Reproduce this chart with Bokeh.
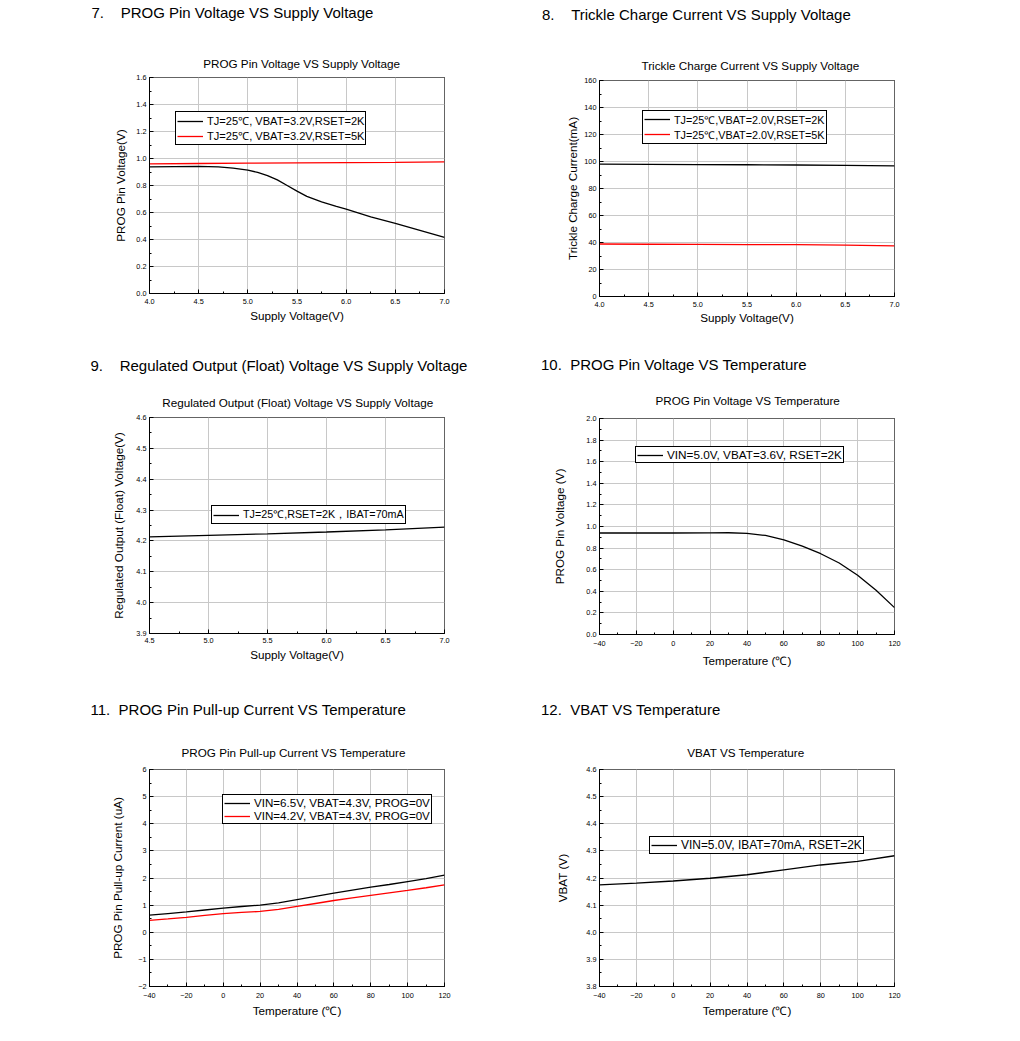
from bokeh.plotting import figure
from bokeh.layouts import column, row
from bokeh.models import Range1d, SingleIntervalTicker, PrintfTickFormatter, Title
from bokeh.embed import file_html
from bokeh.resources import INLINE

FONT = "Liberation Sans"
NB = "\u00a0"
EPS = 1e-9

# ---------------- data ----------------
# 7. PROG Pin Voltage vs Supply Voltage
p7_x_2k = [4.0, 4.25, 4.5, 4.7, 4.85, 5.0, 5.1, 5.2, 5.3, 5.4, 5.5, 5.6, 5.75, 5.9, 6.0, 6.25, 6.5, 6.75, 7.0]
p7_y_2k = [0.938, 0.940, 0.941, 0.938, 0.928, 0.914, 0.897, 0.873, 0.842, 0.800, 0.758, 0.720, 0.679, 0.645, 0.625, 0.568, 0.519, 0.467, 0.415]
p7_x_5k = [4.0, 4.5, 5.0, 5.5, 6.0, 6.5, 7.0]
p7_y_5k = [0.960, 0.963, 0.966, 0.968, 0.970, 0.972, 0.975]

# 8. Trickle Charge Current vs Supply Voltage
p8_x = [4.0, 4.5, 5.0, 5.5, 6.0, 6.5, 7.0]
p8_y_2k = [98.1, 97.9, 97.7, 97.6, 97.4, 97.1, 96.8]
p8_y_5k = [38.9, 38.7, 38.6, 38.5, 38.4, 38.0, 37.5]

# 9. Regulated Output (Float) Voltage vs Supply Voltage
p9_x = [4.5, 5.0, 5.5, 6.0, 6.5, 7.0]
p9_y = [4.213, 4.218, 4.223, 4.229, 4.236, 4.245]

# 10. PROG Pin Voltage vs Temperature
p10_x = [-40, -20, 0, 20, 30, 40, 50, 60, 70, 80, 90, 100, 110, 120]
p10_y = [0.940, 0.940, 0.940, 0.941, 0.942, 0.937, 0.917, 0.877, 0.818, 0.748, 0.662, 0.548, 0.409, 0.249]

# 11. PROG Pin Pull-up Current vs Temperature
p11_x = [-40, -30, -20, -10, 0, 10, 20, 30, 40, 50, 60, 70, 80, 90, 100, 110, 120]
p11_y_65 = [0.63, 0.69, 0.75, 0.82, 0.89, 0.95, 1.00, 1.08, 1.20, 1.32, 1.44, 1.55, 1.66, 1.76, 1.87, 1.98, 2.11]
p11_y_42 = [0.44, 0.49, 0.55, 0.62, 0.69, 0.73, 0.77, 0.84, 0.95, 1.06, 1.17, 1.27, 1.36, 1.45, 1.54, 1.64, 1.745]

# 12. VBAT vs Temperature
p12_x = [-40, -20, 0, 20, 40, 60, 80, 100, 120]
p12_y = [4.175, 4.181, 4.189, 4.199, 4.212, 4.230, 4.248, 4.261, 4.282]

GRID = "#c8c8c8"


def make_panel(cfg):
    bl, br = cfg["bl"], cfg["br"]
    xr, yr = cfg["xr"], cfg["yr"]
    p = figure(frame_width=295, frame_height=cfg["fh"],
               min_border_left=bl, min_border_right=br,
               min_border_top=cfg["bt"], min_border_bottom=cfg["bb"],
               x_range=Range1d(xr[0] - EPS, xr[1] + EPS),
               y_range=Range1d(yr[0] - EPS, yr[1] + EPS),
               output_backend="svg", toolbar_location=None)
    p.background_fill_color = "white"
    p.border_fill_color = "white"
    p.outline_line_color = "black"
    p.outline_line_alpha = 1
    p.outline_line_width = 1

    p.xaxis.ticker = SingleIntervalTicker(interval=cfg["xi"], num_minor_ticks=2)
    p.yaxis.ticker = SingleIntervalTicker(interval=cfg["yi"], num_minor_ticks=2)
    if cfg.get("xf"):
        p.xaxis.formatter = PrintfTickFormatter(format=cfg["xf"])
    if cfg.get("yf"):
        p.yaxis.formatter = PrintfTickFormatter(format=cfg["yf"])

    for ax in (p.xaxis[0], p.yaxis[0]):
        ax.major_tick_in = 4
        ax.major_tick_out = 0
        ax.minor_tick_in = 2
        ax.minor_tick_out = 0
        ax.axis_line_color = "black"
        ax.major_tick_line_color = "black"
        ax.minor_tick_line_color = "black"
        ax.major_label_text_font = FONT
        ax.major_label_text_font_size = "7.3px"
        ax.major_label_text_color = "black"
        ax.axis_label_text_font = FONT
        ax.axis_label_text_font_size = "11.7px"
        ax.axis_label_text_font_style = "normal"
        ax.axis_label_text_color = "black"
    p.xaxis.axis_label = cfg["xl"]
    p.yaxis.axis_label = cfg["yl"]
    p.xaxis.major_label_standoff = cfg["xls"]
    p.xaxis.axis_label_standoff = cfg["xas"]
    p.yaxis.major_label_standoff = 3
    p.yaxis.axis_label_standoff = cfg["yas"]

    p.xgrid.grid_line_color = GRID
    p.ygrid.grid_line_color = GRID
    p.xgrid.grid_line_width = 1
    p.ygrid.grid_line_width = 1

    for (xs, ys, color, lab) in cfg["series"]:
        p.line(xs, ys, line_color=color, line_width=1.3, legend_label=lab)

    lg = p.legend[0]
    lg.location = cfg["lgpos"]
    lg.margin = 0
    lg.padding = 1
    lg.spacing = 0
    lg.glyph_width = 26
    lg.glyph_height = 12
    lg.label_height = 12
    lg.label_standoff = 4
    lg.label_text_font = FONT
    lg.label_text_font_size = cfg["lgfs"]
    lg.label_text_color = "black"
    lg.border_line_color = "black"
    lg.border_line_width = 1
    lg.border_line_alpha = 1
    lg.background_fill_alpha = 1

    t_off, s_c, spacer, h_off = cfg["titles"]
    p.title.text = ""
    # chart title, nearest to the frame
    p.add_layout(Title(text=cfg["title"], align="left", offset=t_off, standoff=s_c,
                       text_font=FONT, text_font_size="11.7px", text_font_style="normal",
                       text_color="black"), "above")
    # spacer
    p.add_layout(Title(text=" ", text_font_size="1px", standoff=spacer), "above")
    # section heading, outermost
    p.add_layout(Title(text=cfg["heading"], align="left", offset=h_off, standoff=0,
                       text_font=FONT, text_font_size="15px", text_font_style="normal",
                       text_color="black"), "above")
    return p


cfgs = [
    dict(bl=148, br=27, fh=216, bt=77, bb=55, xr=(4.0, 7.0), yr=(0.0, 1.6), xi=0.5, yi=0.2, xf="%.1f", yf="%.1f",
         xl="Supply Voltage(V)", yl="PROG Pin Voltage(V)", xls=5, xas=2, yas=6,
         series=[(p7_x_2k, p7_y_2k, "black", "TJ=25℃, VBAT=3.2V,RSET=2K"),
                 (p7_x_5k, p7_y_5k, "red", "TJ=25℃, VBAT=3.2V,RSET=5K")],
         lgpos=(26, 148), lgfs="11.1px",
         heading="7." + NB * 4 + "PROG Pin Voltage VS Supply Voltage",
         title="PROG Pin Voltage VS Supply Voltage", titles=(53.7, 16.0, 22.4, -58)),
    dict(bl=128, br=15, fh=216, bt=80, bb=52, xr=(4.0, 7.0), yr=(0, 160), xi=0.5, yi=20, xf="%.1f", yf=None,
         xl="Supply Voltage(V)", yl="Trickle Charge Current(mA)", xls=5, xas=1, yas=2,
         series=[(p8_x, p8_y_2k, "black", "TJ=25℃,VBAT=2.0V,RSET=2K"),
                 (p8_x, p8_y_5k, "red", "TJ=25℃,VBAT=2.0V,RSET=5K")],
         lgpos=(43, 152.5), lgfs="10.8px",
         heading="8." + NB * 4 + "Trickle Charge Current VS Supply Voltage",
         title="Trickle Charge Current VS Supply Voltage", titles=(42, 18.0, 21.6, -57.5)),
    dict(bl=149, br=26, fh=216, bt=69, bb=65, xr=(4.5, 7.0), yr=(3.9, 4.6), xi=0.5, yi=0.1, xf="%.1f", yf="%.1f",
         xl="Supply Voltage(V)", yl="Regulated Output (Float) Voltage(V)", xls=4, xas=2, yas=8,
         series=[(p9_x, p9_y, "black", "TJ=25℃,RSET=2K，IBAT=70mA")],
         lgpos=(62, 109), lgfs="10.75px",
         heading="9." + NB * 4 + "Regulated Output (Float) Voltage VS Supply Voltage",
         title="Regulated Output (Float) Voltage VS Supply Voltage", titles=(12.7, 16.4, 9.5, -59)),
    dict(bl=129, br=14, fh=216, bt=70, bb=64, xr=(-40, 120), yr=(0.0, 2.0), xi=20, yi=0.2, xf=None, yf="%.1f",
         xl="Temperature (℃)", yl="PROG Pin Voltage (V)", xls=6, xas=5, yas=17,
         series=[(p10_x, p10_y, "black", "VIN=5.0V, VBAT=3.6V, RSET=2K")],
         lgpos=(36, 171), lgfs="11.75px",
         heading="10." + NB * 2 + "PROG Pin Voltage VS Temperature",
         title="PROG Pin Voltage VS Temperature", titles=(56, 23.6, 4.3, -58.5)),
    dict(bl=149, br=26, fh=217, bt=71, bb=55, xr=(-40, 120), yr=(-2, 6), xi=20, yi=1, xf=None, yf=None,
         xl="Temperature (℃)", yl="PROG Pin Pull-up Current (uA)", xls=6, xas=3, yas=11,
         series=[(p11_x, p11_y_65, "black", "VIN=6.5V, VBAT=4.3V, PROG=0V"),
                 (p11_x, p11_y_42, "red", "VIN=4.2V, VBAT=4.3V, PROG=0V")],
         lgpos=(73, 162), lgfs="11.6px",
         heading="11." + NB * 2 + "PROG Pin Pull-up Current VS Temperature",
         title="PROG Pin Pull-up Current VS Temperature", titles=(32, 20.6, 12.8, -59)),
    dict(bl=129, br=14, fh=217, bt=71, bb=55, xr=(-40, 120), yr=(3.8, 4.6), xi=20, yi=0.1, xf=None, yf="%.1f",
         xl="Temperature (℃)", yl="VBAT (V)", xls=6, xas=3, yas=14,
         series=[(p12_x, p12_y, "black", "VIN=5.0V, IBAT=70mA, RSET=2K")],
         lgpos=(50, 132), lgfs="11.95px",
         heading="12." + NB * 2 + "VBAT VS Temperature",
         title="VBAT VS Temperature", titles=(87.7, 20.6, 12.8, -58.5)),
]

figs = [make_panel(c) for c in cfgs]
layout = row(column(figs[0], figs[2], figs[4]), column(figs[1], figs[3], figs[5]))

open("out.html", "w").write(file_html(layout, INLINE))
